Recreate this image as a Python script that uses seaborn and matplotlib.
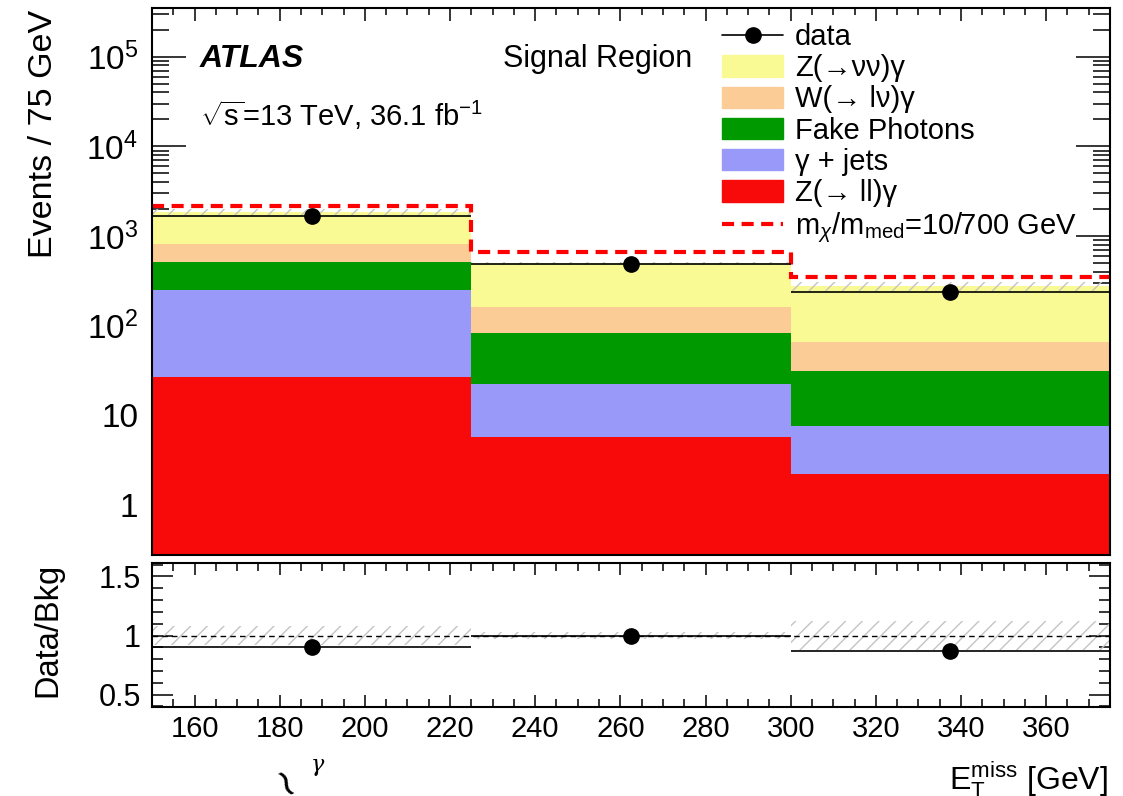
import numpy as np
import pandas as pd
import matplotlib
matplotlib.use("Agg")
import matplotlib.pyplot as plt
import seaborn as sns
from matplotlib.patches import Patch
from matplotlib.lines import Line2D
from matplotlib.ticker import (MultipleLocator, LogLocator, FixedLocator,
                               FixedFormatter, FuncFormatter)

# ---------------- data ----------------
bin_edges = [150, 225, 300, 375]
processes = ["Z(→νν)γ", "W(→ lν)γ", "Fake Photons", "γ + jets", "Z(→ ll)γ"]
z_nunu = [1037, 335, 211]
w_lnu = [298, 76, 34]
fake_photons = [266, 61.5, 23.4]
gamma_jets = [222, 16.8, 5.45]
z_ll = [27, 5.7, 2.2]
data_counts = [1665, 494, 240]
signal_plus_bkg = [2170, 667, 351]
bkg_rel_unc = [0.08, 0.03, 0.12]
colors = ["#fafa94", "#fccc96", "#009900", "#9999fa", "#f90a0a"]

# ---------------- style ----------------
sns.set_theme(style="ticks")
plt.rcParams["font.family"] = ["Liberation Sans", "DejaVu Sans"]
plt.rcParams["mathtext.fontset"] = "custom"
plt.rcParams["mathtext.rm"] = "Liberation Sans"
plt.rcParams["mathtext.it"] = "Liberation Sans:italic"
plt.rcParams["mathtext.bf"] = "Liberation Sans:bold"
plt.rcParams["hatch.linewidth"] = 1.0
plt.rcParams["axes.linewidth"] = 1.5
plt.rcParams["axes.edgecolor"] = "black"
plt.rcParams["text.color"] = "black"
plt.rcParams["axes.labelcolor"] = "black"
plt.rcParams["xtick.color"] = "black"
plt.rcParams["ytick.color"] = "black"
plt.rcParams["legend.labelcolor"] = "black"

W, H = 1123, 796
def fx(px):
    return px / W
def fy(py):
    return 1 - py / H

fig = plt.figure(figsize=(W / 100, H / 100), dpi=100)
ax = fig.add_axes([fx(152), fy(555), fx(1110) - fx(152), fy(8) - fy(555)])
rax = fig.add_axes([fx(152), fy(707), fx(1110) - fx(152), fy(563) - fy(707)])

edges = np.array(bin_edges, dtype=float)
centers = (edges[:-1] + edges[1:]) / 2
widths = np.diff(edges)
series = [z_nunu, w_lnu, fake_photons, gamma_jets, z_ll]
rows = []
for name, vals in zip(processes, series):
    for c, v in zip(centers, vals):
        rows.append({"met": c, "events": v, "process": name})
df = pd.DataFrame(rows)
palette = dict(zip(processes, colors))

sns.histplot(data=df, x="met", weights="events", hue="process",
             hue_order=processes, multiple="stack", bins=bin_edges,
             palette=palette, alpha=1, linewidth=0, legend=False,
             element="bars", ax=ax)
ax.set_yscale("log")

total = np.sum(np.array(series, dtype=float), axis=0)
unc = np.array(bkg_rel_unc)
hatch_col = "#c4c4c4"
ax.bar(centers, total * 2 * unc, bottom=total * (1 - unc), width=widths,
       fill=False, hatch="//", edgecolor=hatch_col, linewidth=0)

ax.stairs(signal_plus_bkg, edges, color="#ff0000", lw=3,
          linestyle=(0, (2.9, 1.8)), baseline=None)

ax.errorbar(centers, data_counts, xerr=widths / 2, fmt="o", color="black",
            ms=11, elinewidth=1.2, capsize=0)

ax.set_xlim(150, 375)
ax.set_ylim(0.277, 3.5e5)
ax.set_xlabel("")
ax.set_ylabel("")

# ratio panel
ratio = np.array(data_counts) / total
rax.bar(centers, 2 * unc, bottom=1 - unc, width=widths, fill=False,
        hatch="//", edgecolor=hatch_col, linewidth=0)
rax.axhline(1, color="black", lw=1, ls=(0, (4, 3)))
rax.errorbar(centers, ratio, xerr=widths / 2, fmt="o", color="black",
             ms=11, elinewidth=1.2, capsize=0)
rax.set_xlim(150, 375)
rax.set_ylim(0.395, 1.614)

# ticks
for a in (ax, rax):
    a.xaxis.set_major_locator(MultipleLocator(20))
    a.xaxis.set_minor_locator(MultipleLocator(5))
    a.tick_params(which="both", direction="in", top=True, right=True,
                  width=1.1, color="black", labelcolor="black")
ax.tick_params(axis="x", which="major", length=9.5, labelbottom=False)
ax.tick_params(axis="x", which="minor", length=5)
ax.yaxis.set_major_locator(LogLocator(base=10, numticks=20))
ax.yaxis.set_minor_locator(LogLocator(base=10, subs=np.arange(2, 10), numticks=20))

def logfmt(v, p):
    e = int(round(np.log10(v)))
    if e == 0:
        return "1"
    if e == 1:
        return "10"
    return r"$10^{%d}$" % e
ax.yaxis.set_major_formatter(FuncFormatter(logfmt))
ax.tick_params(axis="y", which="major", length=24.5, labelsize=24, pad=10)
ax.tick_params(axis="y", which="minor", length=12)

rax.yaxis.set_major_locator(FixedLocator([0.5, 1.0, 1.5]))
rax.yaxis.set_major_formatter(FixedFormatter(["0.5", "1", "1.5"]))
rax.yaxis.set_minor_locator(MultipleLocator(0.1))
rax.tick_params(axis="y", which="major", length=15, labelsize=22, pad=8)
rax.tick_params(axis="y", which="minor", length=8)
rax.tick_params(axis="x", which="major", length=8.6, labelsize=21, pad=6)
rax.tick_params(axis="x", which="minor", length=5.5)
rax.set_xlabel("")
rax.set_ylabel("")

# texts
fig.text(fx(200), fy(67), "ATLAS", fontsize=23, fontweight="bold",
         fontstyle="italic", va="baseline")
fig.text(fx(200), fy(126), r"$\sqrt{\mathrm{s}}$=13 TeV, 36.1 fb$^{-1}$",
         fontsize=21, va="baseline")
fig.text(fx(503), fy(67), "Signal Region", fontsize=22, va="baseline")
fig.text(fx(44), fy(10), "Events / 75 GeV", rotation=90, va="top",
         ha="center", fontsize=24.5)
fig.text(fx(48), fy(563), "Data/Bkg", rotation=90, va="top", ha="center",
         fontsize=23.5)
fig.text(fx(1108), fy(790), r"$\mathrm{E}_{\mathrm{T}}^{\mathrm{miss}}$ [GeV]",
         ha="right", va="baseline", fontsize=23)
fig.text(fx(282), fy(778), "∼", rotation=115, fontsize=28,
         family="DejaVu Sans", ha="center", va="center")
fig.text(fx(317), fy(765), "γ", fontsize=16, fontstyle="italic",
         family="DejaVu Serif", ha="center", va="center")

# legend
handles = [Line2D([0], [0], color="black", marker="o", ms=11, lw=1.2)]
labels = ["data"]
for name, col in zip(processes, colors):
    handles.append(Patch(facecolor=col, edgecolor=col))
    labels.append(name)
handles.append(Line2D([0], [0], color="#ff0000", lw=3, ls=(0, (2.9, 1.8))))
labels.append(r"m$_{\chi}$/m$_{\mathrm{med}}$=10/700 GeV")
fig.legend(handles, labels, loc="upper left",
           bbox_to_anchor=(fx(722), fy(23)), frameon=False, fontsize=21,
           handlelength=2.1, handleheight=0.75, handletextpad=0.4,
           labelspacing=0.11, borderpad=0, borderaxespad=0)

fig.savefig("out.png", dpi=100)
